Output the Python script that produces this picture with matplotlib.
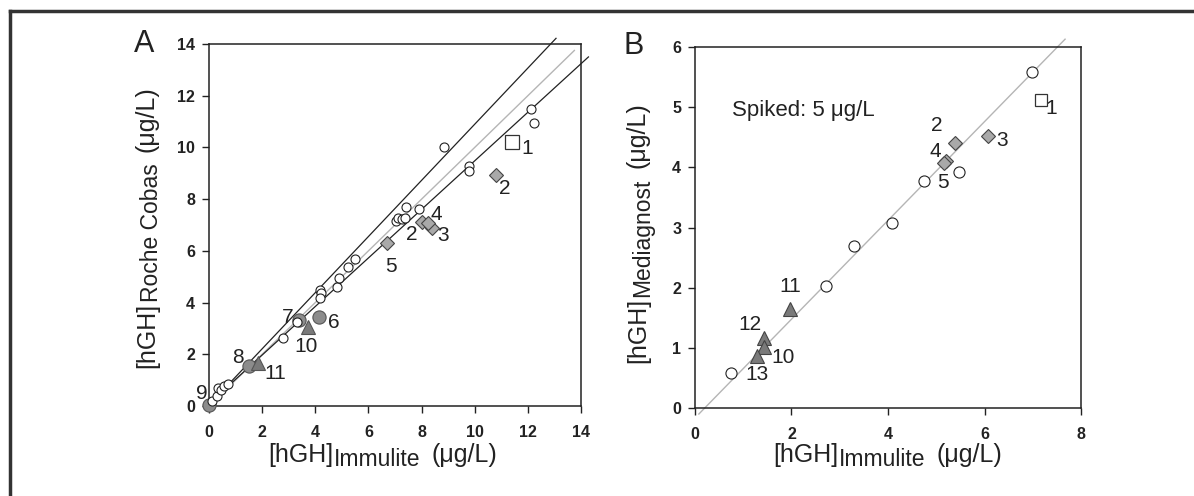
import matplotlib
matplotlib.use("Agg")
import matplotlib.pyplot as plt
from matplotlib.lines import Line2D

plt.rcParams['font.family'] = ['Liberation Sans', 'DejaVu Sans']

W, H = 1194, 496

# ---- panel A: Immulite vs Roche Cobas ----
a_open_x = [0.13, 0.29, 0.35, 0.45, 0.55, 0.72, 2.77, 3.30, 4.17, 4.23, 4.17,
            4.80, 4.90, 5.24, 5.50, 7.03, 7.12, 7.25, 7.38, 7.41, 7.89,
            8.86, 9.77, 9.80, 12.12, 12.24]
a_open_y = [0.19, 0.40, 0.68, 0.60, 0.77, 0.86, 2.64, 3.24, 4.48, 4.36, 4.16,
            4.60, 4.96, 5.36, 5.68, 7.15, 7.28, 7.23, 7.26, 7.71, 7.61,
            10.03, 9.29, 9.10, 11.47, 10.93]
a_circ_x = [4.14, 3.40, 1.50, 0.00]     # samples 6, 7, 8, 9
a_circ_y = [3.45, 3.33, 1.55, 0.04]
a_tri_x = [3.74, 1.85]                  # samples 10, 11
a_tri_y = [3.07, 1.65]
a_dia_x = [10.79, 8.00, 8.38, 8.23, 6.69]   # samples 2, 2, 3, 4, 5
a_dia_y = [8.93, 7.10, 6.87, 7.06, 6.31]
a_sq_x = [11.40]                        # sample 1
a_sq_y = [10.22]
a_upper_x = [0.0, 0.7, 13.06]
a_upper_y = [0.0, 0.80, 14.22]
a_lower_x = [0.0, 0.7, 14.28]
a_lower_y = [0.0, 0.75, 13.50]
a_ident = [0.0, 13.75]

a_labels = ['1', '2', '4', '2', '3', '5', '6', '7', '10', '8', '11', '9']
a_lab_x = [11.96, 11.14, 8.54, 7.63, 8.82, 6.85, 4.68, 2.98, 3.67, 1.10, 2.48, -0.27]
a_lab_y = [9.96, 8.42, 7.39, 6.65, 6.61, 5.39, 3.22, 3.43, 2.29, 1.87, 1.24, 0.49]

# ---- panel B: Immulite vs Mediagnost ----
b_open_x = [0.74, 2.71, 3.30, 4.08, 4.75, 5.47, 6.98]
b_open_y = [0.58, 2.02, 2.69, 3.07, 3.78, 3.93, 5.58]
b_tri_x = [1.97, 1.44, 1.44, 1.28]      # samples 11, 12, 10, 13
b_tri_y = [1.64, 1.16, 1.02, 0.86]
b_dia_x = [5.39, 6.07, 5.20, 5.17]      # samples 2, 3, 4, 5
b_dia_y = [4.41, 4.52, 4.10, 4.07]
b_sq_x = [7.17]                         # sample 1
b_sq_y = [5.12]
b_fit_x = [0.08, 7.67]
b_fit_y = [-0.10, 6.13]

b_labels = ['2', '4', '5', '3', '1', '11', '12', '10', '13']
b_lab_x = [5.01, 4.99, 5.13, 6.36, 7.38, 1.98, 1.14, 1.82, 1.28]
b_lab_y = [4.70, 4.26, 3.74, 4.44, 4.98, 2.02, 1.39, 0.84, 0.55]

fig = plt.figure(figsize=(W / 100, H / 100), dpi=100)
axA = fig.add_axes([209 / W, 1 - 406 / H, 372 / W, 362 / H])
axB = fig.add_axes([695 / W, 1 - 408 / H, 386 / W, 361 / H])
renderer = fig.canvas.get_renderer()

ink = '#222222'


def style_axes(ax, xmax, ymax, xstep, ystep):
    ax.set_xlim(0, xmax)
    ax.set_ylim(0, ymax)
    ax.set_xticks(range(0, xmax + 1, xstep))
    ax.set_yticks(range(0, ymax + 1, ystep))
    ax.tick_params(direction='out', length=5, width=1, labelsize=11.5,
                   top=False, right=False, colors=ink)
    ax.tick_params(axis='x', pad=9)
    ax.tick_params(axis='y', pad=5)
    for t in ax.get_xticklabels() + ax.get_yticklabels():
        t.set_fontweight('bold')
    for s in ax.spines.values():
        s.set_linewidth(1.1)
        s.set_color(ink)


def pieces_label(x0, y0, pieces, vertical=False):
    # lay out text pieces (text, size, shift, gap) along a baseline, in pixels
    pos = 0.0
    for text, size, shift, gap in pieces:
        pos += gap
        if vertical:
            t = fig.text((x0 + shift) / W, 1 - (y0 - pos) / H, text, fontsize=size,
                         color=ink, rotation=90, rotation_mode='anchor',
                         ha='left', va='baseline')
            pos += t.get_window_extent(renderer).height
        else:
            t = fig.text((x0 + pos) / W, 1 - (y0 + shift) / H, text, fontsize=size,
                         color=ink, ha='left', va='baseline')
            pos += t.get_window_extent(renderer).width


# panel A
axA.plot(a_ident, a_ident, color='#b5b5b5', lw=1, clip_on=False, zorder=1)
axA.plot(a_upper_x, a_upper_y, color=ink, lw=0.9, clip_on=False, zorder=1)
axA.plot(a_lower_x, a_lower_y, color=ink, lw=0.9, clip_on=False, zorder=1)
axA.plot(a_circ_x, a_circ_y, 'o', ms=9.5, mfc='#8c8c8c', mec='#555555', mew=0.8,
         clip_on=False, zorder=3)
axA.plot(a_open_x, a_open_y, 'o', ms=6.5, mfc='white', mec=ink, mew=0.8,
         clip_on=False, zorder=4)
axA.plot(a_tri_x, a_tri_y, '^', ms=9.5, mfc='#7a7a7a', mec='#555555', mew=0.8,
         zorder=3)
axA.plot(a_dia_x, a_dia_y, 'D', ms=7, mfc='#a9a9a9', mec='#444444', mew=0.8,
         zorder=3)
axA.plot(a_sq_x, a_sq_y, 's', ms=10, mfc='white', mec='#333333', mew=0.9,
         zorder=3)
for t, x, y in zip(a_labels, a_lab_x, a_lab_y):
    axA.text(x, y, t, fontsize=15, color=ink, ha='center', va='center', zorder=5)
style_axes(axA, 14, 14, 2, 2)

# panel B
axB.plot(b_fit_x, b_fit_y, color='#b5b5b5', lw=1, clip_on=False, zorder=1)
axB.plot(b_open_x, b_open_y, 'o', ms=8, mfc='white', mec=ink, mew=0.8, zorder=3)
axB.plot(b_tri_x, b_tri_y, '^', ms=9.5, mfc='#7a7a7a', mec='#444444', mew=0.8,
         zorder=3)
axB.plot(b_dia_x, b_dia_y, 'D', ms=7, mfc='#a9a9a9', mec='#444444', mew=0.8,
         zorder=3)
axB.plot(b_sq_x, b_sq_y, 's', ms=9, mfc='white', mec='#333333', mew=0.9,
         zorder=3)
for t, x, y in zip(b_labels, b_lab_x, b_lab_y):
    axB.text(x, y, t, fontsize=15, color=ink, ha='center', va='center', zorder=5)
axB.text(2.24, 4.95, 'Spiked: 5 μg/L', fontsize=16, color=ink,
         ha='center', va='center')
style_axes(axB, 8, 6, 2, 1)

# axis titles built from pieces so the subscript keeps its large size
pieces_label(268, 462, [('[hGH]', 18, 0, 0), ('Immulite', 16.5, 4, 1),
                        ('(μg/L)', 18, 0, 11)])
pieces_label(773, 462, [('[hGH]', 18, 0, 0), ('Immulite', 16.5, 4, 1),
                        ('(μg/L)', 18, 0, 11)])
pieces_label(154, 368, [('[hGH]', 18, 0, 0), ('Roche Cobas', 16.5, 4, 1),
                        ('(μg/L)', 18, 0, 11)], vertical=True)
pieces_label(645, 363, [('[hGH]', 18, 0, 0), ('Mediagnost', 16.5, 4, 1),
                        ('(μg/L)', 18, 0, 11)], vertical=True)

# panel letters
fig.text(144 / W, 1 - 44 / H, 'A', fontsize=22, color=ink, ha='center', va='center')
fig.text(634 / W, 1 - 46 / H, 'B', fontsize=22, color=ink, ha='center', va='center')

# frame lines of the figure box
fig.add_artist(Line2D([10 / W, 1.0], [1 - 11 / H, 1 - 11 / H],
                      color='#333333', lw=2.5, transform=fig.transFigure))
fig.add_artist(Line2D([10 / W, 10 / W], [0.0, 1 - 11 / H],
                      color='#333333', lw=2.5, transform=fig.transFigure))

fig.savefig('out.png', dpi=100)
